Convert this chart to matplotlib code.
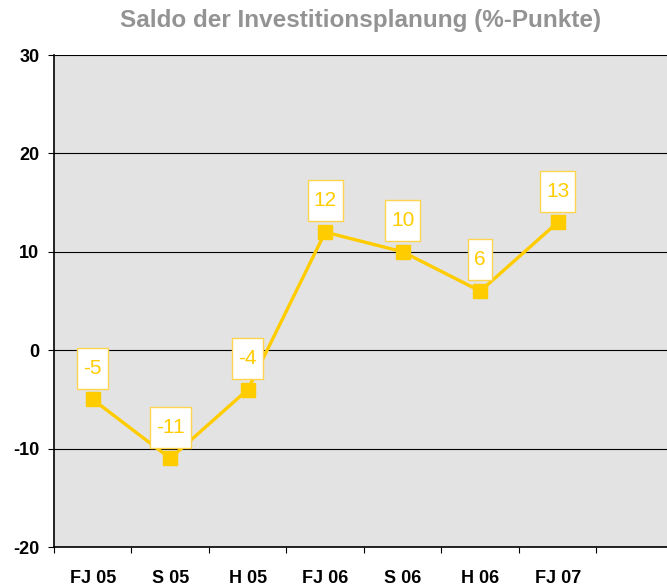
import numpy as np
import matplotlib
matplotlib.use("Agg")
import matplotlib.pyplot as plt
from matplotlib.path import Path

plt.rcParams['font.family'] = ['Liberation Sans', 'DejaVu Sans']

perioden = ["FJ 05", "S 05", "H 05", "FJ 06", "S 06", "H 06", "FJ 07"]
saldo = [-5, -11, -4, 12, 10, 6, 13]

gelb = "#FFCC00"


def kasten(x0, y0, width, height, mutation_size):
    # box with small side padding and taller top/bottom padding (pixels)
    px, py = 6, 11
    x0, y0 = x0 - px, y0 - py
    x1, y1 = x0 + width + 2 * px, y0 + height + 2 * py
    return Path([(x0, y0), (x1, y0), (x1, y1), (x0, y1), (x0, y0)], closed=True)


fig = plt.figure(figsize=(6.67, 5.87), dpi=100)
ax = fig.add_axes([54 / 667, 40 / 587, 620 / 667, 492 / 587])
ax.set_facecolor("#E3E3E3")

x = np.arange(len(perioden))
ax.plot(x, saldo, color=gelb, lw=2.4, marker="s", markersize=10, zorder=3)

for xi, v in zip(x, saldo):
    ax.annotate(str(v), (xi, v), xytext=(0, 22.5), textcoords="offset points",
                ha="center", va="center", fontsize=15, color=gelb, zorder=4,
                bbox=dict(boxstyle=kasten, fc="white", ec="#FFD54F", lw=1))

ax.set_xlim(-0.5, 7.5)
ax.set_ylim(-20, 30)
ax.set_yticks([-20, -10, 0, 10, 20, 30])
ax.set_yticklabels(["-20", "-10", "0", "10", "20", "30"], fontsize=13, fontweight="bold")
ax.yaxis.grid(True, color="black", lw=0.8)
ax.set_axisbelow(True)

ax.set_xticks(np.arange(8) - 0.5)
ax.set_xticklabels([])
ax.set_xticks(x, minor=True)
ax.set_xticklabels(perioden, minor=True, fontsize=13, fontweight="bold")
ax.tick_params(axis="x", which="minor", length=0, pad=16.5)
ax.tick_params(axis="x", which="major", length=4, width=0.8, direction="out")
ax.tick_params(axis="y", length=4, width=0.8, direction="out", pad=6.5)

for s in ["top", "right"]:
    ax.spines[s].set_visible(False)
for s in ["left", "bottom"]:
    ax.spines[s].set_color("black")
    ax.spines[s].set_linewidth(1.2)

fig.text(361 / 667, 1 - 27 / 587, "Saldo der Investitionsplanung (%-Punkte)",
         ha="center", va="baseline", fontsize=17.5, fontweight="bold", color="#939393")

fig.savefig("out.png", dpi=100)
